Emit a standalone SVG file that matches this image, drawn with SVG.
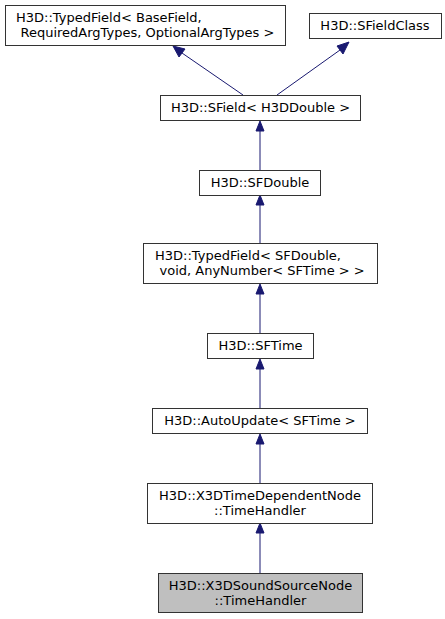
<svg xmlns="http://www.w3.org/2000/svg" width="445" height="619" viewBox="0 0 445 619">
<style>
.box{fill:#ffffff;stroke:#333333;stroke-width:1}
.cur{fill:#bfbfbf;stroke:#333333;stroke-width:1}
text{font-family:"DejaVu Sans",sans-serif;font-size:13px;fill:#000000;text-anchor:middle}
text.l{text-anchor:start}
.e{stroke:#191970;stroke-width:1;fill:none}
.ah{fill:#191970;stroke:#191970;stroke-width:1}
</style>
<rect width="445" height="619" fill="#ffffff"/>
<g id="connectors">
<path class="e" d="M243,95 L182,53"/><polygon class="ah" points="185,49 173,46 179,57"/>
<path class="e" d="M277,95 L340,50"/><polygon class="ah" points="337,46 349,42 343,54"/>
<path class="e" d="M260,170 L260,131"/><polygon class="ah" points="256,131 260,121 264,131"/>
<path class="e" d="M260,243 L260,205"/><polygon class="ah" points="256,205 260,195 264,205"/>
<path class="e" d="M260,333 L260,294"/><polygon class="ah" points="256,294 260,284 264,294"/>
<path class="e" d="M260,408 L260,369"/><polygon class="ah" points="256,369 260,359 264,369"/>
<path class="e" d="M260,483 L260,444"/><polygon class="ah" points="256,444 260,434 264,444"/>
<path class="e" d="M260,573 L260,533"/><polygon class="ah" points="256,533 260,523 264,533"/>
</g>
<g id="n1"><rect class="box" x="5.5" y="5.5" width="280" height="40"/>
<text class="l" x="16" y="22">H3D::TypedField&lt; BaseField,</text>
<text class="l" x="20.5" y="37">RequiredArgTypes, OptionalArgTypes &gt;</text></g>
<g id="n2"><rect class="box" x="309.5" y="13.5" width="132" height="25"/>
<text x="375" y="30">H3D::SFieldClass</text></g>
<g id="n3"><rect class="box" x="160.5" y="95.5" width="200" height="25"/>
<text x="260.5" y="112">H3D::SField&lt; H3DDouble &gt;</text></g>
<g id="n4"><rect class="box" x="199.5" y="170.5" width="121" height="25"/>
<text x="260" y="187">H3D::SFDouble</text></g>
<g id="n5"><rect class="box" x="143.5" y="243.5" width="234" height="40"/>
<text class="l" x="155" y="260">H3D::TypedField&lt; SFDouble,</text>
<text class="l" x="159.5" y="275">void, AnyNumber&lt; SFTime &gt; &gt;</text></g>
<g id="n6"><rect class="box" x="207.5" y="333.5" width="106" height="25"/>
<text x="260.5" y="350">H3D::SFTime</text></g>
<g id="n7"><rect class="box" x="152.5" y="408.5" width="215" height="25"/>
<text x="260" y="425">H3D::AutoUpdate&lt; SFTime &gt;</text></g>
<g id="n8"><rect class="box" x="147.5" y="483.5" width="225" height="40"/>
<text x="260" y="500">H3D::X3DTimeDependentNode</text>
<text x="260" y="515">::TimeHandler</text></g>
<g id="n9"><rect class="cur" x="158.5" y="573.5" width="204" height="39"/>
<text x="260.5" y="590">H3D::X3DSoundSourceNode</text>
<text x="260.5" y="605">::TimeHandler</text></g>
</svg>
